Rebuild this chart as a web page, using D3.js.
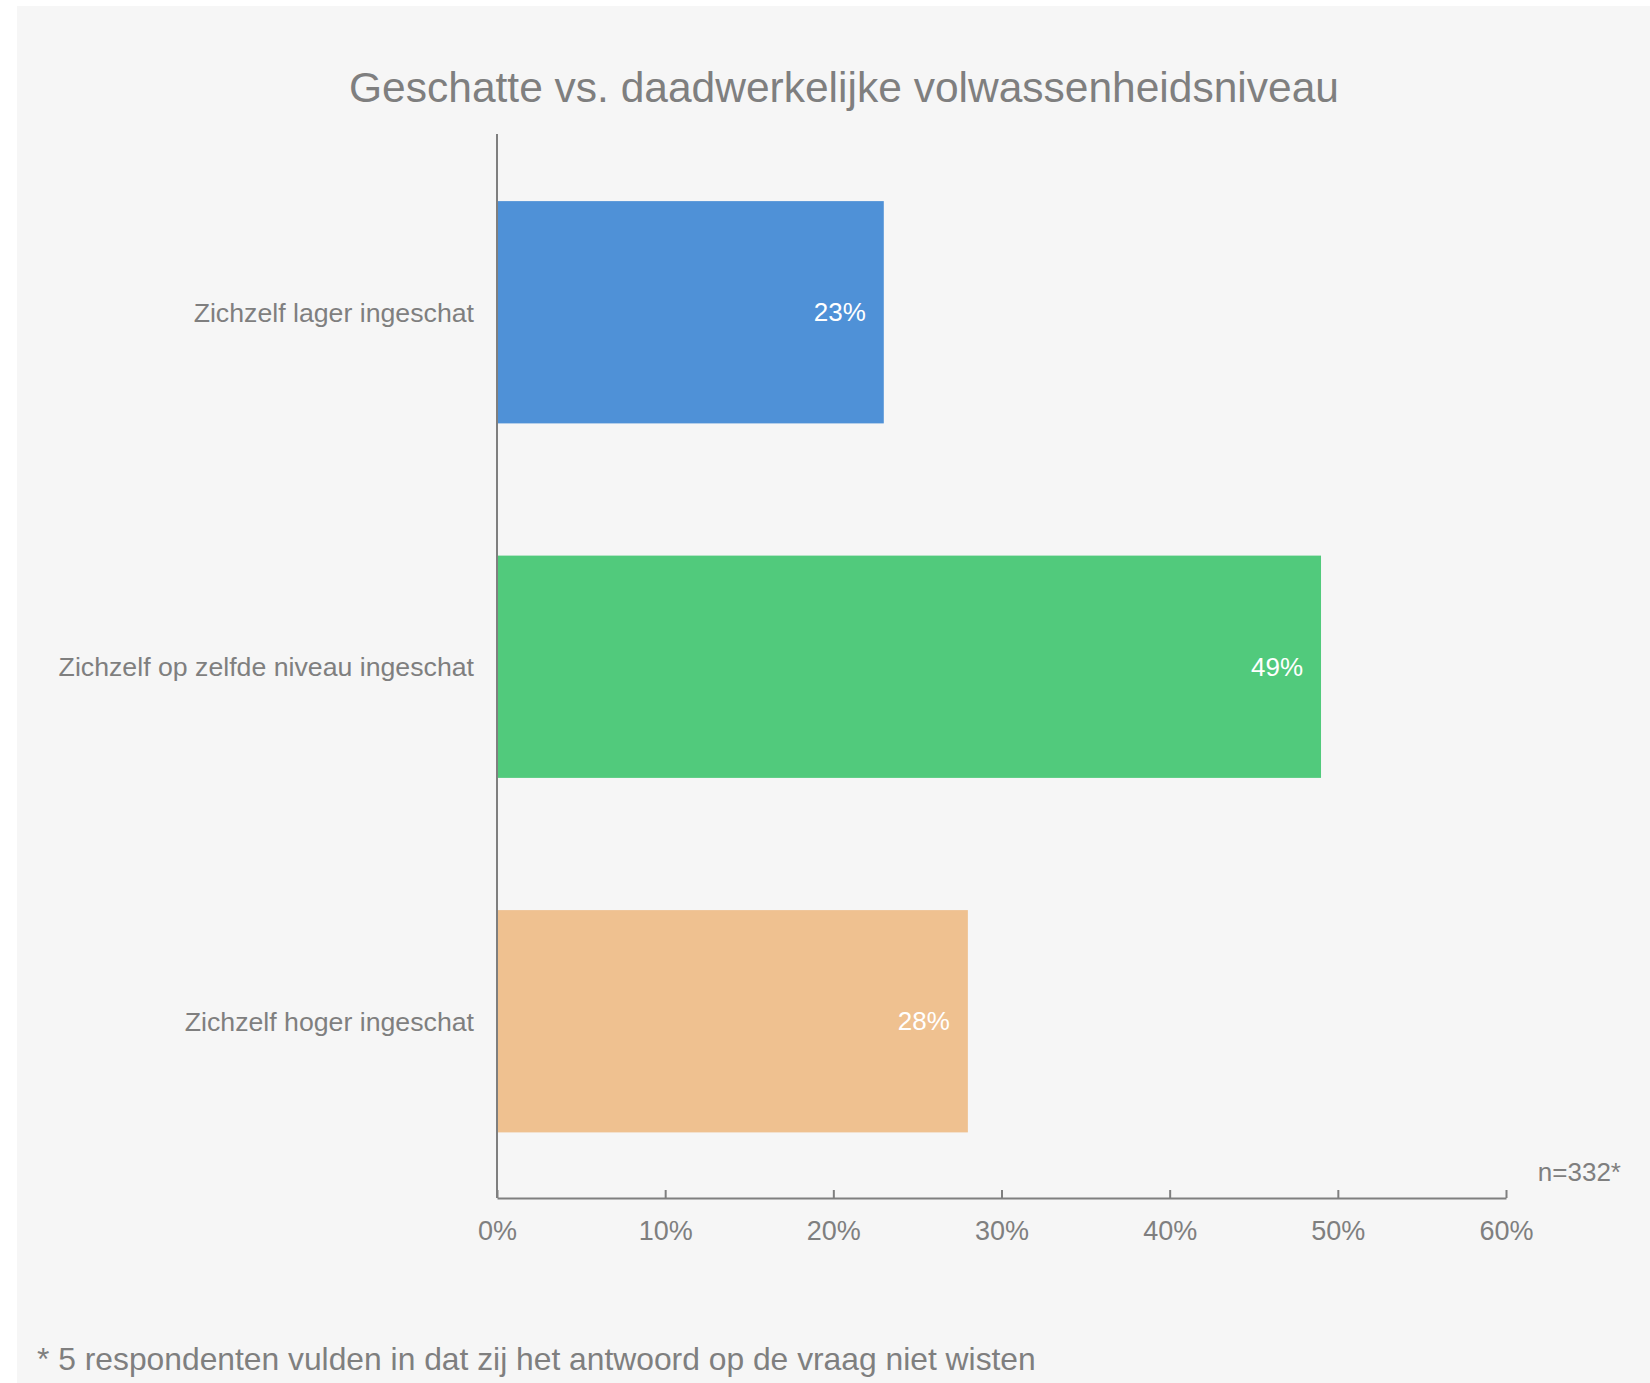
<!DOCTYPE html>
<html>
<head>
<meta charset="utf-8">
<script src="https://cdn.jsdelivr.net/npm/d3@7/dist/d3.min.js"></script>
<style>
  html, body { margin: 0; padding: 0; background: #ffffff; }
  svg { display: block; }
  text { font-family: "Liberation Sans", Arial, sans-serif; }
</style>
</head>
<body>
<svg id="chart" width="1650" height="1383"></svg>
<script>
const categories = ["Zichzelf lager ingeschat", "Zichzelf op zelfde niveau ingeschat", "Zichzelf hoger ingeschat"];
const values = [23, 49, 28];
const barColors = ["#4F91D7", "#51CA7C", "#EFC190"];
const tickValues = [0, 10, 20, 30, 40, 50, 60];
const titleText = "Geschatte vs. daadwerkelijke volwassenheidsniveau";
const nText = "n=332*";
const footnoteText = "* 5 respondenten vulden in dat zij het antwoord op de vraag niet wisten";

(function () {
const svg = d3.select("#chart");
const W = 1650, H = 1383;
const grey = "#7f7f7f";

svg.append("rect").attr("x", 17).attr("y", 6).attr("width", W - 17).attr("height", H - 6).attr("fill", "#f6f6f6");

const plotLeft = 497, plotRight = 1506, plotTop = 134, plotBottom = 1198;

const x = d3.scaleLinear().domain([0, 60]).range([plotLeft, plotRight]);
const y = d3.scaleBand().domain(categories).range([plotTop + 1, plotBottom + 0.5]).paddingInner(0.373).paddingOuter(0.1865);

// bars
svg.append("g").selectAll("rect").data(categories).join("rect")
  .attr("x", x(0))
  .attr("y", d => y(d))
  .attr("width", (d, i) => x(values[i]) - x(0))
  .attr("height", y.bandwidth())
  .attr("fill", (d, i) => barColors[i]);

// value labels
svg.append("g").selectAll("text").data(categories).join("text")
  .attr("x", (d, i) => x(values[i]) - 18)
  .attr("y", d => y(d) + y.bandwidth() / 2 + 9)
  .attr("text-anchor", "end")
  .attr("font-size", 26)
  .attr("fill", "#ffffff")
  .text((d, i) => values[i] + "%");

// x axis
const xAxis = d3.axisBottom(x).tickValues(tickValues).tickFormat(d => d + "%").tickSizeInner(-8).tickSizeOuter(0).tickPadding(23);
const gx = svg.append("g").attr("transform", `translate(0,${plotBottom})`).call(xAxis);
gx.select(".domain").attr("stroke", grey).attr("stroke-width", 2);
gx.selectAll(".tick line").attr("stroke", grey).attr("stroke-width", 2);
gx.selectAll(".tick text").attr("fill", grey).attr("font-size", 27)
  .attr("font-family", "'Liberation Sans', Arial, sans-serif").attr("dy", "0.71em");

// y axis
const yAxis = d3.axisLeft(y).tickSize(0).tickPadding(23);
const gy = svg.append("g").attr("transform", `translate(${plotLeft},0)`).call(yAxis);
gy.select(".domain").attr("d", `M0,${plotTop}V${plotBottom}`).attr("stroke", grey).attr("stroke-width", 2);
gy.selectAll(".tick text").attr("fill", grey).attr("font-size", 26.7)
  .attr("font-family", "'Liberation Sans', Arial, sans-serif").attr("dy", "0.35em");

// title
svg.append("text").attr("x", 844).attr("y", 102).attr("text-anchor", "middle")
  .attr("font-size", 42.5).attr("fill", grey).text(titleText);

// n label
svg.append("text").attr("x", 1621).attr("y", 1181).attr("text-anchor", "end")
  .attr("font-size", 26).attr("fill", grey).text(nText);

// footnote
svg.append("text").attr("x", 37).attr("y", 1370).attr("text-anchor", "start")
  .attr("font-size", 31.8).attr("fill", grey).text(footnoteText);
})();
</script>
</body>
</html>
